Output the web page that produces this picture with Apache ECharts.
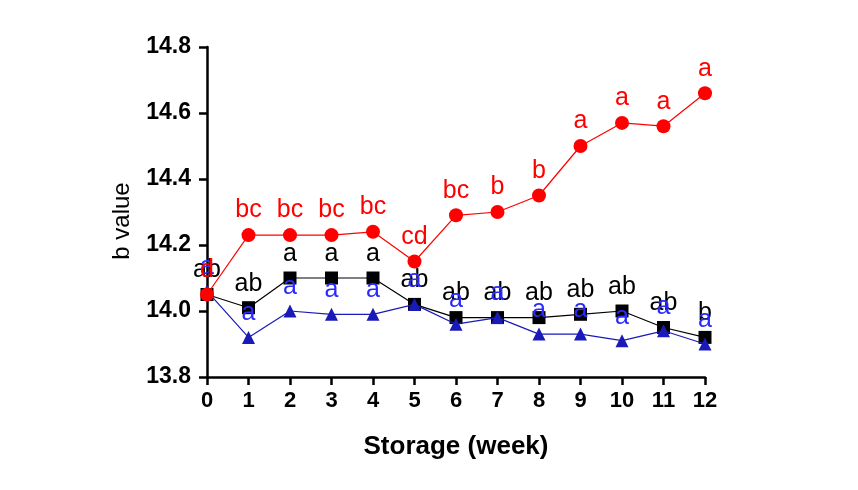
<!DOCTYPE html>
<html>
<head>
<meta charset="utf-8">
<script src="https://cdn.jsdelivr.net/npm/echarts@6/dist/echarts.min.js"></script>
<style>
  html, body { margin: 0; padding: 0; background: #fff; }
  #chart_container { width: 858px; height: 490px; }
</style>
</head>
<body>
<div id="chart_container"></div>
<script>
"use strict";

// storage weeks and b values
const weeks = [0, 1, 2, 3, 4, 5, 6, 7, 8, 9, 10, 11, 12];
const redVals = [14.05, 14.23, 14.23, 14.23, 14.24, 14.15, 14.29, 14.30, 14.35, 14.50, 14.57, 14.56, 14.66];
const blackVals = [14.05, 14.01, 14.10, 14.10, 14.10, 14.02, 13.98, 13.98, 13.98, 13.99, 14.00, 13.95, 13.92];
const blueVals = [14.06, 13.92, 14.00, 13.99, 13.99, 14.02, 13.96, 13.98, 13.93, 13.93, 13.91, 13.94, 13.90];

const redLetters = ["d", "bc", "bc", "bc", "bc", "cd", "bc", "b", "b", "a", "a", "a", "a"];
const blackLetters = ["ab", "ab", "a", "a", "a", "ab", "ab", "ab", "ab", "ab", "ab", "ab", "b"];
const blueLetters = ["a", "a", "a", "a", "a", "a", "a", "a", "a", "a", "a", "a", "a"];

const FONT = "Liberation Sans, Arial, sans-serif";

let makeSeries = (name, vals, letters, color, labelColor, symbol, size, z) => ({
    name: name,
    type: "line",
    data: vals.map((v, i) => [weeks[i], v]),
    symbol: symbol,
    symbolSize: size,
    z: z,
    lineStyle: { color: color, width: 1.2 },
    itemStyle: { color: color },
    label: {
        show: true,
        position: "top",
        distance: 5,
        formatter: (p) => letters[p.dataIndex],
        color: labelColor,
        fontSize: 25,
        fontFamily: FONT
    },
    emphasis: { disabled: true },
    animation: false
});

let pageLoaded = () => {
    let chartDom = document.getElementById("chart_container");
    let myChart = echarts.init(chartDom);

    const axisLine = { show: true, lineStyle: { color: "#000", width: 2.5 } };
    const axisTick = { show: true, inside: false, length: 8, lineStyle: { color: "#000", width: 2.5 } };

    let optEchart = {
        backgroundColor: "#fff",
        animation: false,
        grid: { left: 207, right: 153, top: 47, bottom: 113 },
        xAxis: {
            type: "value",
            min: 0,
            max: 12,
            interval: 1,
            axisLine: axisLine,
            axisTick: axisTick,
            splitLine: { show: false },
            axisLabel: { color: "#000", fontSize: 22, fontWeight: "bold", fontFamily: FONT, margin: 13 },
            name: "Storage (week)",
            nameLocation: "middle",
            nameGap: 57,
            nameTextStyle: { color: "#000", fontSize: 26, fontWeight: "bold", fontFamily: FONT }
        },
        yAxis: {
            type: "value",
            min: 13.8,
            max: 14.8,
            interval: 0.2,
            axisLine: axisLine,
            axisTick: axisTick,
            splitLine: { show: false },
            axisLabel: {
                color: "#000", fontSize: 23, fontWeight: "bold", fontFamily: FONT, margin: 16,
                formatter: (v) => v.toFixed(1)
            },
            name: "b value",
            nameLocation: "middle",
            nameGap: 73,
            nameTextStyle: { color: "#000", fontSize: 24, fontFamily: FONT, padding: [0, 18, 0, 0] }
        },
        series: [
            makeSeries("black", blackVals, blackLetters, "#000000", "#000000", "rect", 13, 3),
            makeSeries("blue", blueVals, blueLetters, "#1a1ab8", "#2a2aff", "triangle", 13, 4),
            makeSeries("red", redVals, redLetters, "#ff0000", "#ff0000", "circle", 14, 5)
        ]
    };

    optEchart && myChart.setOption(optEchart);
};

window.addEventListener("load", pageLoaded, false);
</script>
</body>
</html>
